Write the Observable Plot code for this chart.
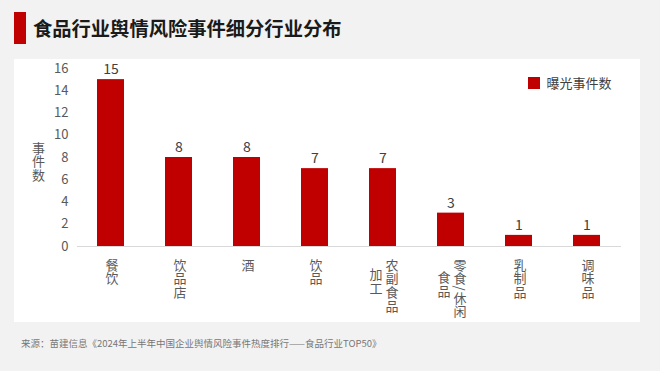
<!DOCTYPE html>
<html>
<head>
<meta charset="utf-8">
<script src="https://cdn.jsdelivr.net/npm/d3@7"></script>
<script src="https://cdn.jsdelivr.net/npm/@observablehq/plot@0.6"></script>
<style>
  html, body { margin: 0; padding: 0; }
  body { width: 660px; height: 371px; background: #f2f2f2; position: relative; overflow: hidden;
         font-family: "Noto Sans CJK SC", "Noto Sans", sans-serif; }
  #titlebar { position: absolute; left: 14px; top: 12px; width: 12px; height: 32px; background: #c00000; }
  #title { position: absolute; left: 33px; top: 13px; font-size: 19.3px; line-height: 30px; color: #1a1a1a; font-weight: bold; white-space: nowrap; }
  #panel { position: absolute; left: 14px; top: 59px; width: 626px; height: 263px; background: #fff; }
  #legend { position: absolute; left: 528px; top: 66px; }
  #caption { position: absolute; left: 21px; top: 335px; font-size: 9.5px; line-height: 16px; color: #777; white-space: nowrap; }
  #caption .d { letter-spacing: -3.5px; margin-right: 3.5px; }
</style>
</head>
<body>
<div id="titlebar"></div>
<div id="title">食品行业舆情风险事件细分行业分布</div>
<div id="panel"></div>
<div id="legend"></div>
<div id="caption">来源：苗建信息《2024年上半年中国企业舆情风险事件热度排行<span class="d">——</span>食品行业TOP50》</div>
<script>
const categories = ["餐饮", "饮品店", "酒", "饮品", "农副食品加工", "零食/休闲食品", "乳制品", "调味品"];
const values = [15, 8, 8, 7, 7, 3, 1, 1];
const labelColA = ["餐饮", "饮品店", "酒", "饮品", "农副食品", "零食/休闲", "乳制品", "调味品"];
const labelColB = ["", "", "", "", "加工", "食品", "", ""];
const yTicks = [0, 2, 4, 6, 8, 10, 12, 14, 16];
const yAxisLabel = "事件数";
const seriesName = "曝光事件数";
const barColor = "#c00000";

const data = categories.map((c, i) => ({name: c, value: values[i], a: labelColA[i], b: labelColB[i]}));
const two = data.filter(d => d.b !== "");
const one = data.filter(d => d.b === "");

const chart = Plot.plot({
  width: 626,
  height: 263,
  marginTop: 9,
  marginBottom: 76,
  marginLeft: 63,
  marginRight: 19,
  style: {background: "#fff", fontFamily: "\"Noto Sans CJK SC\", sans-serif", fontSize: "13px", color: "#595959", overflow: "visible"},
  x: {domain: categories, paddingInner: 0.6, paddingOuter: 0.3, axis: null},
  y: {domain: [0, 16], ticks: yTicks, label: null},
  marks: [
    Plot.axisY({ticks: yTicks, tickSize: 0, tickPadding: 9, fontSize: 13, fill: "#595959", label: null}),
    Plot.barY(data, {x: "name", y: "value", fill: barColor}),
    Plot.ruleY([0], {stroke: "#d9d9d9", strokeWidth: 1}),
    Plot.text(data, {x: "name", y: "value", text: d => String(d.value), dy: -10, lineAnchor: "middle", fontSize: 14, fill: "#404040"}),
    Plot.text(one, {ariaDescription: "vtop", x: "name", y: () => 0, text: "a", dy: 7.5, dx: 1, textAnchor: "start", fontSize: 13, fill: "#595959"}),
    Plot.text(two, {ariaDescription: "vtop", x: "name", y: () => 0, text: "a", dy: 7.5, dx: 9, textAnchor: "start", fontSize: 13, fill: "#595959"}),
    Plot.text(two, {ariaDescription: "vmid", x: "name", y: () => 0, text: "b", dy: 7.5, dx: -7, textAnchor: "middle", fontSize: 13, fill: "#595959"}),
    Plot.text([yAxisLabel], {ariaDescription: "vcen", frameAnchor: "left", dx: -39, text: d => d, textAnchor: "middle", fontSize: 13, fill: "#595959"})
  ]
});
document.getElementById("panel").appendChild(chart);

const root = d3.select(chart);
root.selectAll("g[aria-description='vtop'] text, g[aria-description='vmid'] text, g[aria-description='vcen'] text")
  .attr("dy", null)
  .attr("writing-mode", "vertical-rl")
  .style("writing-mode", "vertical-rl")
  .style("letter-spacing", "0.7px");

// left column of two-column labels: centred on the right column
const rightCols = root.selectAll("g[aria-description='vtop'] text").nodes().slice(one.length);
root.selectAll("g[aria-description='vmid'] text").each(function(d, k) {
  const partner = rightCols[k];
  if (!partner) return;
  const len = partner.getComputedTextLength();
  const cur = d3.select(this);
  const y0 = +cur.attr("y") || 0;
  if (cur.attr("y") != null) cur.attr("y", y0 + len / 2);
  else {
    const tr = cur.attr("transform") || "";
    cur.attr("transform", tr + ` translate(0,${len / 2})`);
  }
});

const legend = Plot.legend({
  color: {type: "categorical", domain: [seriesName], range: [barColor]},
  swatchSize: 12,
  style: {fontSize: "13px", color: "#404040", fontFamily: "\"Noto Sans CJK SC\", sans-serif", background: "transparent"}
});
document.getElementById("legend").appendChild(legend);
</script>
</body>
</html>
